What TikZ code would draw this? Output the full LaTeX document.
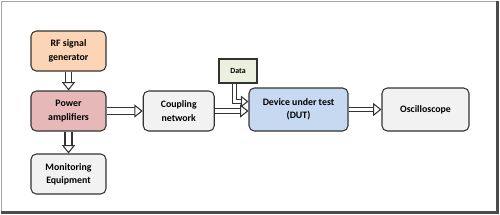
\documentclass[tikz,border=0pt]{standalone}
\usepackage{fontspec}
\setmainfont{Carlito}
\usetikzlibrary{arrows.meta,calc}
\definecolor{rfc}{HTML}{FBD5B5}
\definecolor{pac}{HTML}{E6B9B8}
\definecolor{grc}{HTML}{F2F2F2}
\definecolor{dutc}{HTML}{C6D9F1}
\definecolor{datac}{HTML}{EBF1DE}
\definecolor{edgec}{HTML}{333333}
\tikzset{
  blk/.style={draw=edgec, line width=0.6pt, rounded corners=3pt, align=center,
    font=\fontsize{5.6}{7.6}\selectfont\bfseries, inner sep=1pt},
  dbl/.style={draw=edgec, line width=0.7pt, double=white, double distance=2.4pt, shorten >=3pt},
  hd/.style={draw=edgec, line width=0.6pt, -{Triangle[fill=white, length=4.8pt, width=7.5pt]}},
}
\begin{document}
\begin{tikzpicture}[x=0.02cm, y=-0.02cm]
\useasboundingbox (0,0) rectangle (500,214);
\draw[draw=gray!70, line width=0.5pt] (1.5,1.5) rectangle (497.5,212.5);
\draw[draw=black!70, line width=1.3pt] (497.5,1) -- (497.5,212.5) -- (1,212.5);
\node[blk, fill=rfc, minimum width=1.5cm, minimum height=0.8cm] (rf) at (68.5,51) {RF signal\\generator};
\node[blk, fill=pac, minimum width=1.5cm, minimum height=0.8cm] (pa) at (68.5,111) {Power\\amplifiers};
\node[blk, fill=grc, minimum width=1.5cm, minimum height=0.8cm] (mon) at (68.5,174) {Monitoring\\Equipment};
\node[blk, fill=grc, minimum width=1.42cm, minimum height=0.8cm] (cpl) at (178.75,111) {Coupling\\network};
\node[blk, rounded corners=0pt, fill=datac, minimum width=0.76cm, minimum height=0.48cm,
  font=\fontsize{4.5}{5.5}\selectfont\bfseries] (data) at (238,71) {Data};
\node[blk, fill=dutc, minimum width=1.98cm, minimum height=0.86cm] (dut) at (298.5,109.5) {Device under test\\(DUT)};
\node[blk, fill=grc, minimum width=1.74cm, minimum height=0.86cm] (osc) at (425.5,109.5) {Oscilloscope};
\coordinate (c1) at (cpl.east -| dut.west);
\coordinate (d1) at ([yshift=0.16cm]dut.west);
% double shafts
\draw[dbl, double distance=3pt] (rf) -- (pa);
\draw[dbl, double distance=3.4pt] (pa) -- (mon);
\draw[dbl, double distance=3pt] (pa) -- (cpl);
\draw[dbl, double distance=2.2pt] (cpl.east) -- (c1);
\draw[dbl, double distance=1.9pt] (dut) -- (osc);
\draw[dbl, double distance=1.8pt, line width=0.6pt] ([xshift=-0.07cm]data.south) |- (d1);
% open heads
\draw[hd] ([yshift=2pt]pa.north) -- (pa.north);
\draw[hd] ([yshift=2pt]mon.north) -- (mon.north);
\draw[hd] ([xshift=-2pt]cpl.west) -- (cpl.west);
\draw[hd] ([xshift=-2pt]c1) -- (c1);
\draw[hd] ([xshift=-2pt]osc.west) -- (osc.west);
\draw[hd, -{Triangle[fill=white, length=4.3pt, width=6.5pt]}] ([xshift=-2pt]d1) -- (d1);
\end{tikzpicture}
\end{document}
